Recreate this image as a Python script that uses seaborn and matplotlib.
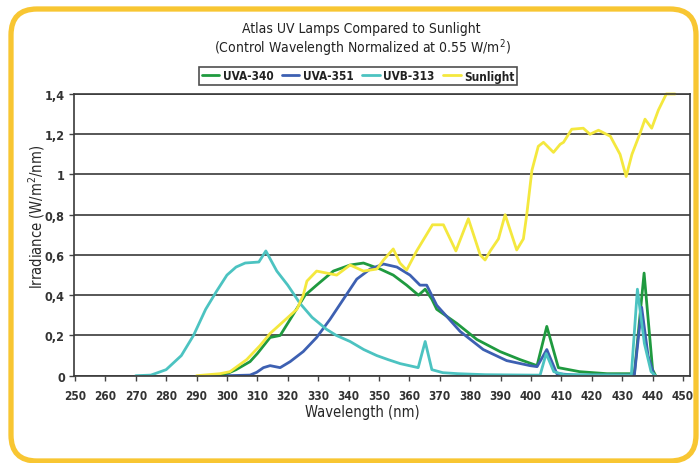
import numpy as np
import pandas as pd

import matplotlib
matplotlib.use("Agg")
import matplotlib.pyplot as plt
from matplotlib.patches import FancyBboxPatch
import seaborn as sns

# values (wavelength in nm, irradiance in W/m2/nm)
uvb313_nm = [270, 275, 280, 285, 289, 293, 296.6, 300, 303, 306, 310.5, 312.8,
             316.4, 320, 324, 328, 332.8, 336, 340.5, 345, 349.3, 353, 357,
             362.9, 365.2, 367.4, 371, 376, 385, 400, 403, 405, 407.5, 411,
             433, 435, 437.3, 439.5, 441]
uvb313_val = [0, 0.003, 0.03, 0.10, 0.20, 0.33, 0.42, 0.50, 0.54, 0.56, 0.565,
              0.62, 0.52, 0.45, 0.36, 0.29, 0.23, 0.20, 0.17, 0.13, 0.10, 0.08,
              0.06, 0.04, 0.17, 0.03, 0.015, 0.01, 0.005, 0.003, 0.003, 0.11,
              0.02, 0.005, 0.003, 0.43, 0.16, 0.02, 0.0]

uva340_nm = [295, 300, 303, 307.6, 310, 314.2, 317.5, 320.8, 325.7, 329.5, 335,
             340.5, 344.9, 350.4, 354.7, 359.1, 363, 365.2, 367.4, 369, 375.6,
             382.2, 389.8, 396.4, 402, 405.2, 409, 416, 425, 434, 437.2, 440,
             441]
uva340_val = [0, 0.01, 0.03, 0.07, 0.11, 0.19, 0.20, 0.28, 0.40, 0.45, 0.52,
              0.55, 0.56, 0.53, 0.50, 0.45, 0.40, 0.43, 0.38, 0.33, 0.26, 0.18,
              0.12, 0.08, 0.05, 0.245, 0.04, 0.02, 0.01, 0.01, 0.51, 0.03, 0.0]

uva351_nm = [300, 307.6, 309.8, 312, 314.2, 317.5, 320.8, 325.1, 329.5, 333.9,
             338.3, 342.7, 347.1, 351.5, 355.9, 360.2, 363.5, 365.7, 369, 376.7,
             384.3, 392, 399.7, 402, 405.2, 408.5, 415, 434, 436.4, 438.5, 440.5]
uva351_val = [0, 0.003, 0.017, 0.04, 0.05, 0.04, 0.07, 0.12, 0.19, 0.28, 0.38,
              0.48, 0.53, 0.555, 0.54, 0.50, 0.45, 0.45, 0.35, 0.22, 0.13,
              0.075, 0.05, 0.045, 0.13, 0.01, 0.003, 0.003, 0.34, 0.10, 0.0]

sun_nm = [290, 297.7, 301, 306.5, 310.9, 314.2, 318.6, 323, 325.1, 326.3, 329.5,
          332.8, 336.1, 340.5, 344.9, 349.3, 351.5, 354.7, 356.9, 359.1, 362.4,
          367.6, 371.2, 375.3, 379.4, 383.3, 384.9, 386.6, 389.3, 391.5, 395.3,
          397.5, 398.6, 400.3, 402.4, 404.1, 407.4, 409.6, 410.7, 413.4, 417.2,
          419.4, 422.2, 426.1, 429.3, 431.3, 433.2, 436, 437.5, 439.7, 441.9,
          444.5, 447.4]
sun_val = [0, 0.01, 0.02, 0.08, 0.15, 0.21, 0.27, 0.33, 0.40, 0.47, 0.52, 0.51,
           0.50, 0.55, 0.52, 0.53, 0.575, 0.63, 0.56, 0.525, 0.62, 0.75, 0.75,
           0.62, 0.78, 0.60, 0.575, 0.62, 0.68, 0.80, 0.625, 0.68, 0.80, 1.02,
           1.14, 1.16, 1.11, 1.15, 1.16, 1.225, 1.23, 1.20, 1.22, 1.19, 1.10,
           0.99, 1.10, 1.21, 1.275, 1.23, 1.32, 1.40, 1.40]

x_ticks = list(range(250, 451, 10))
y_ticks = [0, 0.2, 0.4, 0.6, 0.8, 1.0, 1.2, 1.4]
y_tick_labels = ["0", "0,2", "0,4", "0,6", "0,8", "1", "1,2", "1,4"]

series = [
    ("UVA-340", uva340_nm, uva340_val, "#1f9a3f"),
    ("UVA-351", uva351_nm, uva351_val, "#3d60b2"),
    ("UVB-313", uvb313_nm, uvb313_val, "#4cc3c1"),
    ("Sunlight", sun_nm, sun_val, "#f4e83e"),
]


def main():
    sns.set_style("white")
    plt.rcParams["font.family"] = ["DejaVu Sans"]
    plt.rcParams["font.stretch"] = "condensed"
    plt.rcParams["text.color"] = "#222222"

    fig = plt.figure(figsize=(6.99, 4.64), dpi=100)
    fig.patch.set_facecolor("white")

    # yellow rounded frame, drawn in pixel units
    bg = fig.add_axes([0, 0, 1, 1], zorder=-1)
    bg.set_xlim(0, 699)
    bg.set_ylim(464, 0)
    bg.axis("off")
    bg.add_patch(
        FancyBboxPatch(
            (11, 10), 685, 452,
            boxstyle="round,pad=0,rounding_size=26",
            fc="white", ec="#f8c632", lw=3.8,
        )
    )

    ax = fig.add_axes([74 / 699, 1 - 376.7 / 464, 616 / 699, 281.7 / 464])
    ax.set_facecolor("white")

    for name, xs, ys, color in series:
        df = pd.DataFrame({"nm": xs, "irr": ys})
        sns.lineplot(data=df, x="nm", y="irr", ax=ax, color=color, lw=2.0,
                     label=name, sort=True, estimator=None,
                     clip_on=(name != "Sunlight"))

    ax.set_xlim(249.7, 452.3)
    ax.set_ylim(0, 1.4)
    ax.set_xticks(x_ticks)
    ax.set_xticklabels([str(t) for t in x_ticks], fontsize=8.5,
                       fontweight="bold", color="#333333")
    ax.set_yticks(y_ticks)
    ax.set_yticklabels(y_tick_labels, fontsize=9, fontweight="bold",
                       color="#333333")
    ax.tick_params(axis="both", direction="out", length=3.5, width=1,
                   color="#444444", bottom=True, left=True)
    ax.tick_params(axis="x", pad=6)
    ax.tick_params(axis="y", pad=3)

    ax.grid(True, axis="y", color="#3a3a3a", lw=1.2)
    ax.grid(False, axis="x")
    ax.set_axisbelow(True)
    for side in ["left", "right", "top", "bottom"]:
        ax.spines[side].set_visible(True)
        ax.spines[side].set_color("#3a3a3a")
        ax.spines[side].set_linewidth(1.2)

    ax.set_xlabel("Wavelength (nm)", fontsize=10.5, va="center")
    ax.xaxis.set_label_coords(0.4675, -0.128)
    ax.set_ylabel("Irradiance (W/m$^2$/nm)", fontsize=10.5, va="center")
    ax.yaxis.set_label_coords(-0.061, 0.567)

    handles, labels = ax.get_legend_handles_labels()
    ax.get_legend().remove()
    leg = fig.legend(handles, labels, loc="center", ncol=4,
                     bbox_to_anchor=(358 / 699, 1 - 77 / 464),
                     frameon=True, fancybox=False, handlelength=1.5,
                     handletextpad=0.3, columnspacing=0.7, borderpad=0.25,
                     prop={"size": 8.5, "weight": "bold",
                           "stretch": "condensed"})
    leg.get_frame().set_edgecolor("#222222")
    leg.get_frame().set_linewidth(1.2)

    fig.text(361 / 699, 1 - 29 / 464, "Atlas UV Lamps Compared to Sunlight",
             ha="center", va="center", fontsize=10)
    fig.text(362 / 699, 1 - 48 / 464,
             "(Control Wavelength Normalized at 0.55 W/m$^2$)",
             ha="center", va="center", fontsize=10)

    fig.savefig("out.png", dpi=100)


if __name__ == "__main__":
    main()
